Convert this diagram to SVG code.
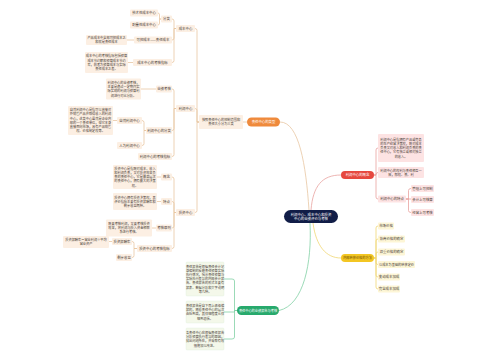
<svg xmlns="http://www.w3.org/2000/svg" width="500" height="360" viewBox="0 0 500 360">
<style>
text{font-family:"Noto Sans CJK SC","Noto Sans",sans-serif;text-anchor:middle;fill:#4a4036}
.l{font-size:3.4px}
.s{font-size:3.2px}
.b{fill:#fcefe3}
.rb{fill:#fde3e3}
.yb{fill:#fdf6d6}
.gb{fill:#f4f8ea;stroke:#d6ead6;stroke-width:0.3}
.co{fill:none;stroke:#e8c7a2;stroke-width:0.8}
.cr{fill:none;stroke:#e9a2a0;stroke-width:0.8}
.cy{fill:none;stroke:#f0d774;stroke-width:0.8}
.cg{fill:none;stroke:#82d0a4;stroke-width:0.8}
.w{fill:#fff}
</style>
<rect width="500" height="360" fill="#fff"/>
<g id="connectors">
<path class="co" d="M280,122 C299,122 306,165 309,210"/>
<path class="cr" d="M311,210 C313,186 322,175 341,175"/>
<path class="cy" d="M313,223 C316,246 326,258 341,258"/>
<path class="cg" d="M310,223 C312,262 304,305 279,310.5"/>
<path class="co" d="M247,122 H243"/>
<path class="co" d="M199,122 H197 V30.5 Q197,28.5 195,28.5"/>
<path class="co" d="M199,122 H197 V110.5 Q197,108.5 195,108.5"/>
<path class="co" d="M199,122 H197 V210.5 Q197,212.5 195,212.5"/>
<path class="co" d="M176,28.5 H174 V21 Q174,19 172,19"/>
<path class="co" d="M176,28.5 H174 V38 Q174,40 172,40"/>
<path class="co" d="M176,28.5 H174 V60.5 Q174,62.5 172,62.5"/>
<path class="co" d="M161,19 H159.5 V15 Q159.5,13 158,13"/>
<path class="co" d="M161,19 H159.5 V23 Q159.5,25 158,25"/>
<path class="co" d="M134,40 H127"/>
<path class="co" d="M133,62.5 H128"/>
<path class="co" d="M176,108.5 H174 V91 Q174,89 172,89"/>
<path class="co" d="M176,108.5 H174 V128.5 Q174,130.5 172,130.5"/>
<path class="co" d="M176,108.5 H174 V154.5 Q174,156.5 172,156.5"/>
<path class="co" d="M156,89 H141"/>
<path class="co" d="M146,130.5 H144 V122.5 Q144,120.5 142,120.5"/>
<path class="co" d="M146,130.5 H144 V143.5 Q144,145.5 142,145.5"/>
<path class="co" d="M117,120.5 H113"/>
<path class="co" d="M176,212.5 H174 V179 Q174,177 172,177"/>
<path class="co" d="M176,212.5 H174 V203.5 Q174,201.5 172,201.5"/>
<path class="co" d="M176,212.5 H174 V226 Q174,228 172,228"/>
<path class="co" d="M176,212.5 H174 V246.5 Q174,248.5 172,248.5"/>
<path class="co" d="M161,177 H157"/>
<path class="co" d="M161,201.5 H157"/>
<path class="co" d="M156,228 H152"/>
<path class="co" d="M137,248.5 H134 V243.5 Q134,241.5 132,241.5"/>
<path class="co" d="M137,248.5 H134 V255.5 Q134,257.5 132,257.5"/>
<path class="co" d="M112,241.5 H109"/>
<path class="cr" d="M374,175 H376 V150 Q376,148 378,148"/>
<path class="cr" d="M374,175 H376 V174.5 Q376,172.5 378,172.5"/>
<path class="cr" d="M374,175 H376 V197 Q376,199 378,199"/>
<path class="cr" d="M406,199 H408.5 V190.5 Q408.5,188.5 411,188.5"/>
<path class="cr" d="M406,199 H411"/>
<path class="cr" d="M406,199 H408.5 V210.5 Q408.5,212.5 411,212.5"/>
<path class="cy" d="M374,258 H376 V228 Q376,226 378,226"/>
<path class="cy" d="M374,258 H376 V241 Q376,239 378,239"/>
<path class="cy" d="M374,258 H376 V254 Q376,252 378,252"/>
<path class="cy" d="M374,258 H376 V262.5 Q376,264.5 378,264.5"/>
<path class="cy" d="M374,258 H376 V275 Q376,277 378,277"/>
<path class="cy" d="M374,258 H376 V287 Q376,289 378,289"/>
<path class="cg" d="M237,310.5 H234.5 V281 Q234.5,279 232,279 H224"/>
<path class="cg" d="M237,310.5 H234.5 V312 H224"/>
<path class="cg" d="M237,310.5 H234.5 V337 Q234.5,339 232,339 H224"/>
</g>
<g id="center">
<rect x="284" y="210" width="54" height="13" rx="6.5" fill="#111d47"/>
<text class="l w" x="311" y="215.5">利润中心、成本中心和投资</text>
<text class="l w" x="311" y="219.9">中心的业绩评价与考核</text>
</g>
<g id="n-type">
<rect x="247" y="117.5" width="33" height="9" rx="4.5" fill="#ef8a3c"/>
<text class="l w" x="263.5" y="123.2">责任中心的类型</text>
</g>
<g id="n-type-desc">
<rect class="b" x="199" y="115" width="44" height="14" rx="1"/>
<text class="s" x="221" y="121.1">按照责任中心的控制范围和</text>
<text class="s" x="221" y="125.3">责任大小分为三类</text>
</g>
<g id="n-cost">
<rect class="b" x="176" y="25" width="19" height="7" rx="1"/>
<text class="l" x="185.5" y="29.7">成本中心</text>
</g>
<g id="n-cost-class">
<rect class="b" x="161" y="15.5" width="11" height="7" rx="1"/>
<text class="l" x="166.5" y="20.2">分类</text>
</g>
<g id="n-cost-tech">
<rect class="b" x="130" y="9.5" width="28" height="7" rx="1"/>
<text class="l" x="144" y="14.2">技术性成本中心</text>
</g>
<g id="n-cost-disc">
<rect class="b" x="130" y="21.5" width="28" height="7" rx="1"/>
<text class="l" x="144" y="26.2">酌量性成本中心</text>
</g>
<g id="n-cost-ctrl">
<rect class="b" x="134" y="36.5" width="38" height="7" rx="1"/>
<text class="l" x="153" y="41.2">可控成本——责任成本</text>
</g>
<g id="n-cost-ctrl-desc">
<rect class="b" x="86" y="35" width="41" height="10" rx="1"/>
<text class="s" x="106.5" y="39.1">产品成本中全部可控成本之</text>
<text class="s" x="106.5" y="43.3">和就是责任成本</text>
</g>
<g id="n-cost-kpi">
<rect class="b" x="133" y="59" width="39" height="7" rx="1"/>
<text class="l" x="152.5" y="63.7">成本中心的考核指标</text>
</g>
<g id="n-cost-kpi-desc">
<rect class="b" x="85" y="52" width="43" height="21" rx="1"/>
<text class="s" x="106.5" y="57.4">成本中心的考核指标包括预算</text>
<text class="s" x="106.5" y="61.6">成本节约额和预算成本节约</text>
<text class="s" x="106.5" y="65.8">率，前者为预算成本与实际</text>
<text class="s" x="106.5" y="70">责任成本之差。</text>
</g>
<g id="n-profit">
<rect class="b" x="176" y="105" width="19" height="7" rx="1"/>
<text class="l" x="185.5" y="109.7">利润中心</text>
</g>
<g id="n-profit-eval">
<rect class="b" x="156" y="85.5" width="16" height="7" rx="1"/>
<text class="l" x="164" y="90.2">业绩考核</text>
</g>
<g id="n-profit-eval-desc">
<rect class="b" x="106" y="78.5" width="35" height="21" rx="1"/>
<text class="s" x="123.5" y="83.9">利润中心的业绩考核，</text>
<text class="s" x="123.5" y="88.1">主要是通过一定期间实</text>
<text class="s" x="123.5" y="92.3">际实现的利润与预算利</text>
<text class="s" x="123.5" y="96.5">润进行对比分析。</text>
</g>
<g id="n-profit-class">
<rect class="b" x="146" y="127" width="26" height="7" rx="1"/>
<text class="l" x="159" y="131.7">利润中心的分类</text>
</g>
<g id="n-profit-natural">
<rect class="b" x="117" y="117" width="25" height="7" rx="1"/>
<text class="l" x="129.5" y="121.7">自然利润中心</text>
</g>
<g id="n-profit-natural-desc">
<rect class="b" x="68" y="106" width="45" height="29" rx="1"/>
<text class="s" x="90.5" y="111.2">自然利润中心是指可以直接对</text>
<text class="s" x="90.5" y="115.4">外销售产品并取得收入的利润</text>
<text class="s" x="90.5" y="119.6">中心，这类中心虽然是企业内</text>
<text class="s" x="90.5" y="123.8">部的一个责任单位，但它本身</text>
<text class="s" x="90.5" y="128">直接面向市场，具有产品销售</text>
<text class="s" x="90.5" y="132.2">权、价格制定权等。</text>
</g>
<g id="n-profit-artificial">
<rect class="b" x="117" y="142" width="25" height="7" rx="1"/>
<text class="l" x="129.5" y="146.7">人为利润中心</text>
</g>
<g id="n-profit-kpi">
<rect class="b" x="138" y="153" width="34" height="7" rx="1"/>
<text class="l" x="155" y="157.7">利润中心的考核指标</text>
</g>
<g id="n-inv">
<rect class="b" x="176" y="209" width="19" height="7" rx="1"/>
<text class="l" x="185.5" y="213.7">投资中心</text>
</g>
<g id="n-inv-concept">
<rect class="b" x="161" y="173.5" width="11" height="7" rx="1"/>
<text class="l" x="166.5" y="178.2">概念</text>
</g>
<g id="n-inv-concept-desc">
<rect class="b" x="113" y="165" width="44" height="24" rx="1"/>
<text class="s" x="135" y="169.8">投资中心是指既对成本、收入</text>
<text class="s" x="135" y="174">和利润负责，又对投资效果负</text>
<text class="s" x="135" y="178.2">责的责任中心，它是最高层次</text>
<text class="s" x="135" y="182.4">的责任中心，拥有最大的决策</text>
<text class="s" x="135" y="186.6">权。</text>
</g>
<g id="n-inv-feature">
<rect class="b" x="161" y="198" width="11" height="7" rx="1"/>
<text class="l" x="166.5" y="202.7">特点</text>
</g>
<g id="n-inv-feature-desc">
<rect class="b" x="113" y="193" width="44" height="17" rx="1"/>
<text class="s" x="135" y="198.5">投资中心拥有投资决策权，其</text>
<text class="s" x="135" y="202.7">评价指标主要有投资报酬率和</text>
<text class="s" x="135" y="206.9">剩余收益两种。</text>
</g>
<g id="n-inv-rule">
<rect class="b" x="156" y="224.5" width="16" height="7" rx="1"/>
<text class="l" x="164" y="229.2">考核原则</text>
</g>
<g id="n-inv-rule-desc">
<rect class="b" x="106" y="219.5" width="46" height="17" rx="1"/>
<text class="s" x="129" y="225">既要考核利润，又要考核投资</text>
<text class="s" x="129" y="229.2">效果，将利润与投入资金相联</text>
<text class="s" x="129" y="233.4">系进行考核。</text>
</g>
<g id="n-inv-kpi">
<rect class="b" x="137" y="245" width="35" height="7" rx="1"/>
<text class="l" x="154.5" y="249.7">投资中心的考核指标</text>
</g>
<g id="n-inv-roi">
<rect class="b" x="112" y="238" width="20" height="7" rx="1"/>
<text class="l" x="122" y="242.7">投资报酬率</text>
</g>
<g id="n-inv-roi-desc">
<rect class="b" x="63" y="236" width="46" height="12" rx="1"/>
<text class="s" x="86" y="241.1">投资报酬率＝营业利润÷平均</text>
<text class="s" x="86" y="245.3">营业资产</text>
</g>
<g id="n-inv-ri">
<rect class="b" x="116" y="254" width="16" height="7" rx="1"/>
<text class="l" x="124" y="258.7">剩余收益</text>
</g>
<g id="n-concept">
<rect x="341" y="171" width="33" height="8" rx="4" fill="#e6483f"/>
<text class="l w" x="357.5" y="176.2">利润中心的概念</text>
</g>
<g id="n-concept-1">
<rect class="rb" x="378" y="134" width="46" height="28" rx="1"/>
<text class="s" x="401" y="140.8">利润中心是指拥有产品或劳务</text>
<text class="s" x="401" y="145">的生产经营决策权，既对成本</text>
<text class="s" x="401" y="149.2">负责又对收入和利润负责的责</text>
<text class="s" x="401" y="153.4">任中心，它有独立或相对独立</text>
<text class="s" x="401" y="157.6">的收入。</text>
</g>
<g id="n-concept-2">
<rect class="rb" x="378" y="167" width="46" height="11" rx="1"/>
<text class="s" x="401" y="171.6">利润中心的权利与责任相互一</text>
<text class="s" x="401" y="175.8">致，即权、责、利</text>
</g>
<g id="n-concept-3">
<rect class="rb" x="378" y="195.5" width="28" height="7" rx="1"/>
<text class="l" x="392" y="200.2">利润中心的特点</text>
</g>
<g id="n-concept-3a">
<rect class="rb" x="411" y="185" width="23" height="7" rx="1"/>
<text class="l" x="422.5" y="189.7">管理上可控制</text>
</g>
<g id="n-concept-3b">
<rect class="rb" x="411" y="196" width="23" height="7" rx="1"/>
<text class="l" x="422.5" y="200.7">会计上可核算</text>
</g>
<g id="n-concept-3c">
<rect class="rb" x="411" y="209" width="23" height="7" rx="1"/>
<text class="l" x="422.5" y="213.7">经营上可考核</text>
</g>
<g id="n-price">
<rect x="341" y="254" width="33" height="8" rx="4" fill="#f3c623"/>
<text class="s" x="357.5" y="259.2" style="fill:#6e4e00">内部转移价格的方法</text>
</g>
<g id="n-price-1">
<rect class="yb" x="378" y="222.5" width="16" height="7" rx="1"/>
<text class="l" x="386" y="227.2">市场价格</text>
</g>
<g id="n-price-2">
<rect class="yb" x="378" y="235.5" width="27" height="7" rx="1"/>
<text class="l" x="391.5" y="240.2">协商价格的确定</text>
</g>
<g id="n-price-3">
<rect class="yb" x="378" y="248.5" width="27" height="7" rx="1"/>
<text class="l" x="391.5" y="253.2">双重价格的确定</text>
</g>
<g id="n-price-4">
<rect class="yb" x="378" y="261" width="37" height="7" rx="1"/>
<text class="s" x="396.5" y="265.7">以成本为基础的转移定价</text>
</g>
<g id="n-price-5">
<rect class="yb" x="378" y="273.5" width="22" height="7" rx="1"/>
<text class="l" x="389" y="278.2">变动成本加成</text>
</g>
<g id="n-price-6">
<rect class="yb" x="378" y="285.5" width="22" height="7" rx="1"/>
<text class="l" x="389" y="290.2">完全成本加成</text>
</g>
<g id="n-report">
<rect x="237" y="306" width="42" height="9" rx="4.5" fill="#27a96c"/>
<text class="s w" x="258" y="311.7">责任中心的业绩报告与考核</text>
</g>
<g id="n-report-1">
<rect class="gb" x="186" y="262" width="38" height="34" rx="1"/>
<text class="s" x="205" y="267.6">责任报告是根据责任会计记</text>
<text class="s" x="205" y="271.8">录编制的反映责任预算实际</text>
<text class="s" x="205" y="276">执行情况，揭示责任预算与</text>
<text class="s" x="205" y="280.2">实际执行差异的内部会计报</text>
<text class="s" x="205" y="284.4">告。责任报告的形式主要有</text>
<text class="s" x="205" y="288.6">报表、数据分析和文字说明</text>
<text class="s" x="205" y="292.8">等几种。</text>
</g>
<g id="n-report-2">
<rect class="gb" x="186" y="301" width="38" height="22" rx="1"/>
<text class="s" x="205" y="306.9">责任报告是自下而上逐级编</text>
<text class="s" x="205" y="311.1">报的，随着责任中心的层次</text>
<text class="s" x="205" y="315.3">由低到高，其详细程度从详</text>
<text class="s" x="205" y="319.5">细到总括。</text>
</g>
<g id="n-report-3">
<rect class="gb" x="186" y="328" width="38" height="22" rx="1"/>
<text class="s" x="205" y="333.9">各责任中心应根据责任报告</text>
<text class="s" x="205" y="338.1">分析预算执行差异的原因，</text>
<text class="s" x="205" y="342.3">找出问题所在，并采取有效</text>
<text class="s" x="205" y="346.5">措施加以改进。</text>
</g>
</svg>
